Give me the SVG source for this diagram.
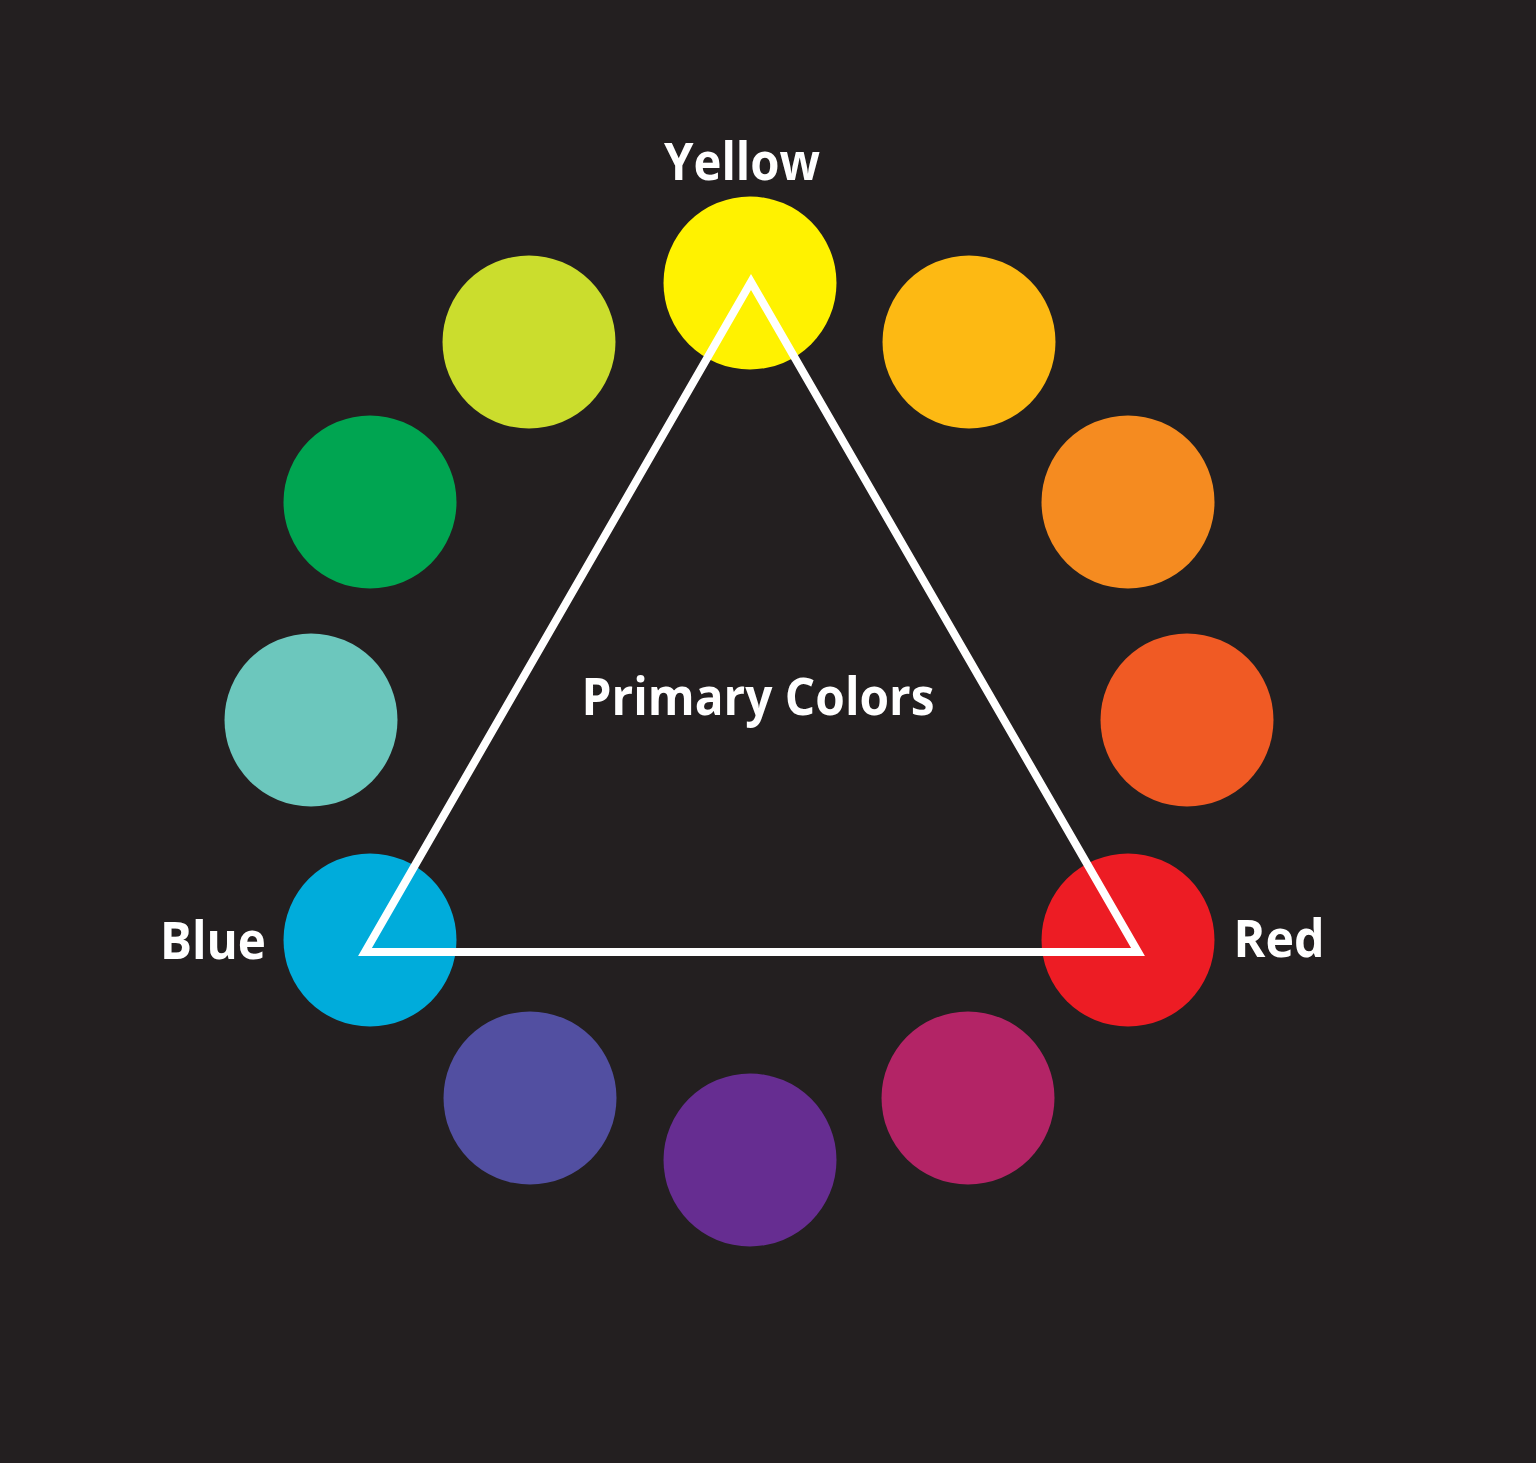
<svg xmlns="http://www.w3.org/2000/svg" width="1536" height="1463" viewBox="0 0 1536 1463">
<style>
.c{stroke:none}
.t{font-family:"Open Sans","Liberation Sans",sans-serif;font-weight:700;fill:#ffffff;text-anchor:middle}
</style>
<rect width="1536" height="1463" fill="#231f20"/>
<g id="wheel">
<circle id="yellow" class="c" cx="750" cy="283" r="86.5" fill="#fff200"/>
<circle id="yellow-orange" class="c" cx="969" cy="342" r="86.5" fill="#fdb913"/>
<circle id="orange" class="c" cx="1128" cy="502" r="86.5" fill="#f58b20"/>
<circle id="red-orange" class="c" cx="1187" cy="720" r="86.5" fill="#f05a24"/>
<circle id="red" class="c" cx="1128" cy="940" r="86.5" fill="#ed1c24"/>
<circle id="red-violet" class="c" cx="968" cy="1098" r="86.5" fill="#b32466"/>
<circle id="violet" class="c" cx="750" cy="1160" r="86.5" fill="#662d91"/>
<circle id="blue-violet" class="c" cx="530" cy="1098" r="86.5" fill="#524fa1"/>
<circle id="blue" class="c" cx="370" cy="940" r="86.5" fill="#00acdb"/>
<circle id="blue-green" class="c" cx="311" cy="720" r="86.5" fill="#6cc7bd"/>
<circle id="green" class="c" cx="370" cy="502" r="86.5" fill="#00a551"/>
<circle id="yellow-green" class="c" cx="529" cy="342" r="86.5" fill="#cbdd2d"/>
</g>
<g id="triangle">
<polygon points="751,282 1138,952 365,952" fill="none" stroke="#ffffff" stroke-width="8" stroke-linejoin="miter" stroke-miterlimit="10"/>
</g>
<g id="labels">
<text class="t" x="742" y="180" font-size="52" textLength="156" lengthAdjust="spacingAndGlyphs">Yellow</text>
<text class="t" x="213" y="959" font-size="52" textLength="106" lengthAdjust="spacingAndGlyphs">Blue</text>
<text class="t" x="1279" y="957" font-size="52" textLength="91" lengthAdjust="spacingAndGlyphs">Red</text>
<text class="t" x="758" y="715" font-size="52" textLength="353" lengthAdjust="spacingAndGlyphs">Primary Colors</text>
</g>
</svg>
